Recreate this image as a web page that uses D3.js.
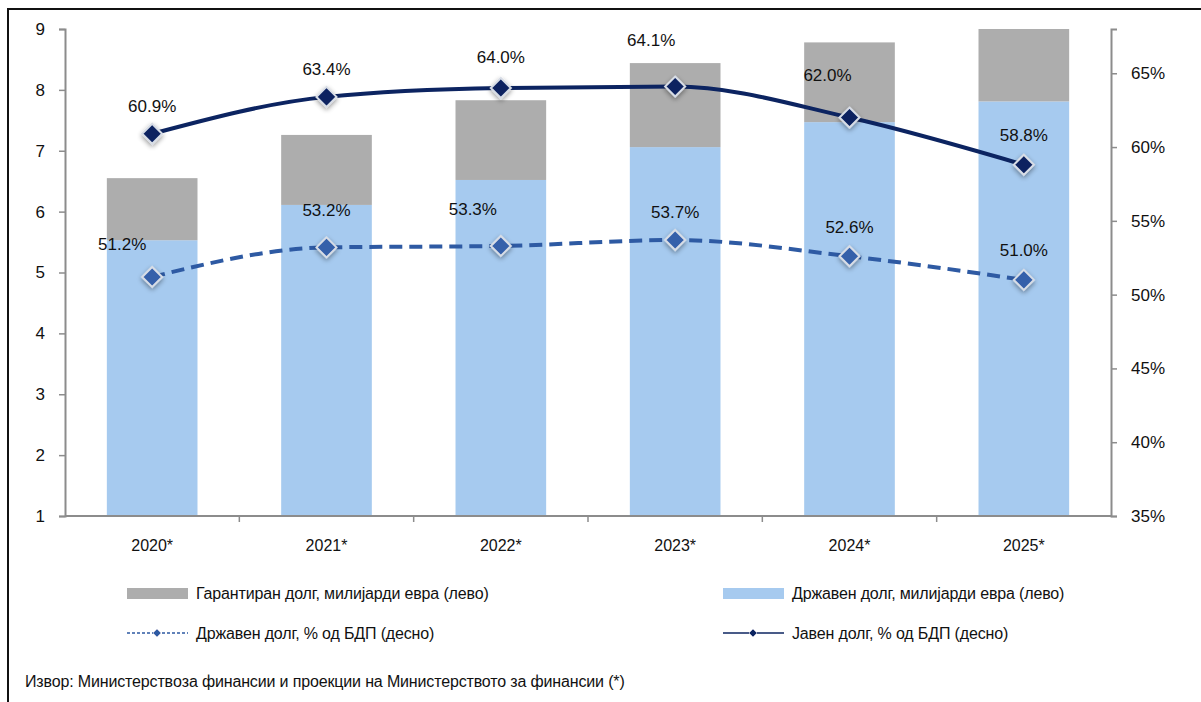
<!DOCTYPE html>
<html>
<head>
<meta charset="utf-8">
<script src="https://cdn.jsdelivr.net/npm/d3@7"></script>
<style>
  body { margin: 0; background: #fff; }
  text { font-family: "Liberation Sans", Arial, sans-serif; fill: #111; }
</style>
</head>
<body>
<div id="vis-holder"></div>
<script>
// Data
const years = ["2020*", "2021*", "2022*", "2023*", "2024*", "2025*"];
const govDebt = [5.53, 6.11, 6.52, 7.06, 7.47, 7.81];        // state debt, bn EUR (left, axis reading)
const guarDebt = [1.02, 1.15, 1.31, 1.38, 1.31, 1.19];       // guaranteed debt, bn EUR (stacked on top)
const publicPct = [60.9, 63.4, 64.0, 64.1, 62.0, 58.8];      // public debt, % GDP (right)
const govPct = [51.2, 53.2, 53.3, 53.7, 52.6, 51.0];         // state debt, % GDP (right)
const leftTicks = [1, 2, 3, 4, 5, 6, 7, 8, 9];
const rightTicks = [35, 40, 45, 50, 55, 60, 65];

const width = 1201;
const height = 702;
const margin = { top: 29, right: 90, bottom: 186, left: 65 };

const svg = d3.select("#vis-holder")
  .append("svg")
  .attr("width", width)
  .attr("height", height);

// frame
svg.append("path")
  .attr("d", `M8,${height} L8,9 L${width},9`)
  .attr("fill", "none")
  .attr("stroke", "#111")
  .attr("stroke-width", 2);

const x = d3.scaleBand()
  .domain(years)
  .range([margin.left, width - margin.right]);

const yL = d3.scaleLinear()
  .domain([1, 9])
  .range([height - margin.bottom, margin.top]);

const yR = d3.scaleLinear()
  .domain([35, 68])
  .range([height - margin.bottom, margin.top]);

const barW = x.bandwidth() * 0.52;

// bars
const bars = svg.append("g");
years.forEach((yr, i) => {
  const cx = x(yr) + x.bandwidth() / 2;
  const top = govDebt[i] + guarDebt[i];
  bars.append("rect")
    .attr("x", cx - barW / 2)
    .attr("y", yL(govDebt[i]))
    .attr("width", barW)
    .attr("height", yL(1) - yL(govDebt[i]))
    .attr("fill", "#a6caef");
  bars.append("rect")
    .attr("x", cx - barW / 2)
    .attr("y", yL(top))
    .attr("width", barW)
    .attr("height", yL(govDebt[i]) - yL(top))
    .attr("fill", "#adadad");
});

// axes
const axisColor = "#8c8c8c";
const gL = svg.append("g")
  .attr("transform", `translate(${margin.left},0)`)
  .call(d3.axisLeft(yL).tickValues(leftTicks).tickSize(6).tickPadding(14));
const gR = svg.append("g")
  .attr("transform", `translate(${width - margin.right},0)`)
  .call(d3.axisRight(yR).tickValues(rightTicks).tickFormat(d => d + "%").tickSize(6).tickPadding(14));
const gX = svg.append("g")
  .attr("transform", `translate(0,${height - margin.bottom})`)
  .call(d3.axisBottom(x).tickSize(0).tickPadding(24));

[gL, gR, gX].forEach(g => {
  g.select(".domain").attr("stroke", axisColor).attr("stroke-width", 2);
  g.selectAll(".tick line").attr("stroke", axisColor).attr("stroke-width", 1.5);
  g.selectAll("text").attr("font-size", 17).attr("fill", "#111")
    .style("font-family", "'Liberation Sans', Arial, sans-serif");
});
gX.select(".domain").attr("d", `M${margin.left},0H${width - margin.right}`);
gX.selectAll("text").attr("font-size", 16);

// category separator ticks on x axis
svg.append("g")
  .selectAll("line")
  .data(years.slice(1))
  .enter()
  .append("line")
  .attr("x1", d => x(d)).attr("x2", d => x(d))
  .attr("y1", height - margin.bottom)
  .attr("y2", height - margin.bottom + 6)
  .attr("stroke", axisColor)
  .attr("stroke-width", 1.5);

// shadow filter for markers
const defs = svg.append("defs");
const f = defs.append("filter").attr("id", "glow").attr("x", "-60%").attr("y", "-60%").attr("width", "220%").attr("height", "220%");
f.append("feGaussianBlur").attr("in", "SourceAlpha").attr("stdDeviation", 2.5).attr("result", "b");
f.append("feOffset").attr("in", "b").attr("dx", 0).attr("dy", 2).attr("result", "o");
f.append("feComponentTransfer").attr("in", "o").attr("result", "s")
  .append("feFuncA").attr("type", "linear").attr("slope", 0.4);
const fm = f.append("feMerge");
fm.append("feMergeNode").attr("in", "s");
fm.append("feMergeNode").attr("in", "SourceGraphic");

const cxOf = i => x(years[i]) + x.bandwidth() / 2;

const line = d3.line()
  .x((d, i) => cxOf(i))
  .y(d => yR(d))
  .curve(d3.curveMonotoneX);

const navy = "#0c2461";
const mid = "#2e5aa3";

svg.append("path")
  .datum(govPct)
  .attr("d", line)
  .attr("fill", "none")
  .attr("stroke", mid)
  .attr("stroke-width", 4)
  .attr("stroke-dasharray", "13,7");

svg.append("path")
  .datum(publicPct)
  .attr("d", line)
  .attr("fill", "none")
  .attr("stroke", navy)
  .attr("stroke-width", 4);

function diamond(g, cx, cy, r, fill) {
  g.append("path")
    .attr("d", `M${cx},${cy - r}L${cx + r},${cy}L${cx},${cy + r}L${cx - r},${cy}Z`)
    .attr("fill", fill)
    .attr("stroke", "#d8dde6")
    .attr("stroke-width", 2)
    .attr("filter", "url(#glow)");
}

const markers = svg.append("g");
govPct.forEach((v, i) => diamond(markers, cxOf(i), yR(v), 10, "#3460aa"));
publicPct.forEach((v, i) => diamond(markers, cxOf(i), yR(v), 10, navy));

// data labels (offsets relative to marker)
const pubLabelOff = [[0, -28], [0, -28], [0, -31], [-24, -47], [-22, -42], [0, -30]];
const govLabelOff = [[-30, -33], [0, -37], [-28, -37], [0, -28], [0, -29], [0, -30]];
const fmt = v => v.toFixed(1) + "%";

const labels = svg.append("g").attr("font-size", 17).attr("text-anchor", "middle");
publicPct.forEach((v, i) => {
  labels.append("text")
    .attr("x", cxOf(i) + pubLabelOff[i][0])
    .attr("y", yR(v) + pubLabelOff[i][1])
    .attr("dy", "0.35em")
    .text(fmt(v));
});
govPct.forEach((v, i) => {
  labels.append("text")
    .attr("x", cxOf(i) + govLabelOff[i][0])
    .attr("y", yR(v) + govLabelOff[i][1])
    .attr("dy", "0.35em")
    .text(fmt(v));
});

// legend
const legend = svg.append("g").attr("font-size", 16).attr("letter-spacing", -0.15);
const legItems = [
  { type: "rect", color: "#adadad", x: 127, y: 593, text: "Гарантиран долг, милијарди евра (лево)" },
  { type: "rect", color: "#a6caef", x: 723, y: 593, text: "Државен долг, милијарди евра (лево)" },
  { type: "dash", color: mid, x: 127, y: 633, text: "Државен долг, % од БДП (десно)" },
  { type: "line", color: navy, x: 723, y: 633, text: "Јавен долг, % од БДП (десно)" }
];
legItems.forEach(d => {
  if (d.type === "rect") {
    legend.append("rect")
      .attr("x", d.x).attr("y", d.y - 5)
      .attr("width", 61).attr("height", 11)
      .attr("fill", d.color);
  } else {
    legend.append("line")
      .attr("x1", d.x).attr("x2", d.x + 61)
      .attr("y1", d.y).attr("y2", d.y)
      .attr("stroke", d.color)
      .attr("stroke-width", 1.5)
      .attr("stroke-dasharray", d.type === "dash" ? "3,2" : null);
    legend.append("path")
      .attr("d", `M${d.x + 30},${d.y - 4}L${d.x + 34},${d.y}L${d.x + 30},${d.y + 4}L${d.x + 26},${d.y}Z`)
      .attr("fill", d.color)
      .attr("stroke", "#ccd")
      .attr("stroke-width", 0.8);
  }
  legend.append("text")
    .attr("x", d.x + 69)
    .attr("y", d.y)
    .attr("dy", "0.35em")
    .text(d.text);
});

// source
svg.append("text")
  .attr("x", 25)
  .attr("y", 681)
  .attr("dy", "0.35em")
  .attr("font-size", 16)
  .attr("letter-spacing", -0.15)
  .text("Извор: Министерствoза финансии и проекции на Министерството за финансии (*)");
</script>
</body>
</html>
